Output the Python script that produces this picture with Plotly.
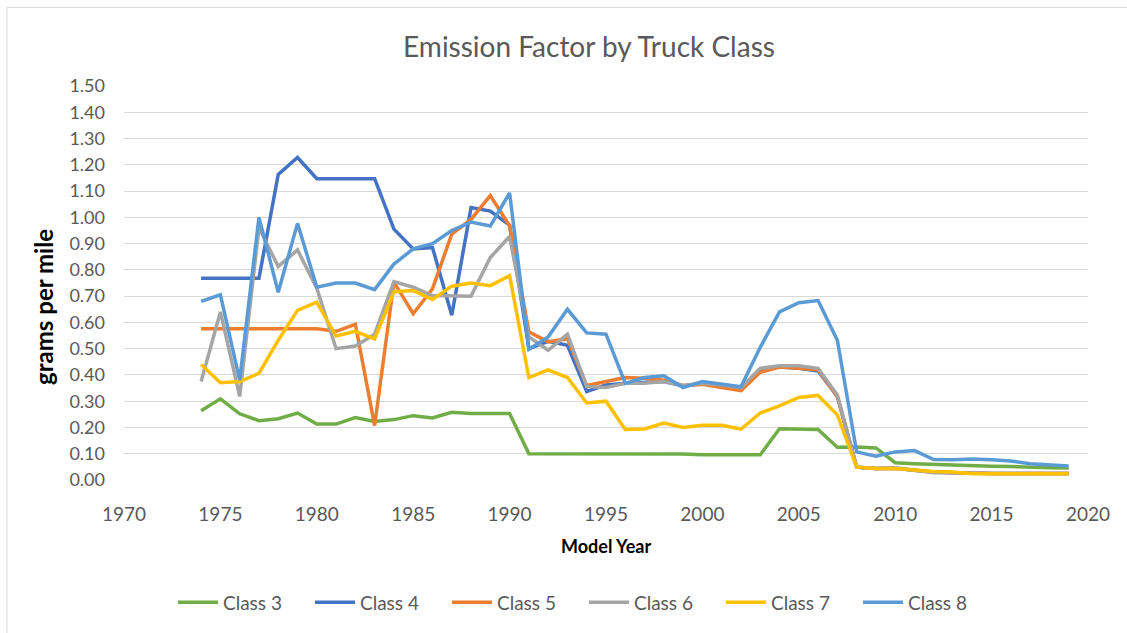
import plotly.graph_objects as go

years = list(range(1974, 2020))

class3 = [0.264, 0.309, 0.252, 0.226, 0.233, 0.255, 0.213, 0.213, 0.238, 0.223,
          0.230, 0.245, 0.236, 0.258, 0.253, 0.253, 0.253, 0.100, 0.100, 0.100,
          0.100, 0.100, 0.100, 0.100, 0.100, 0.099, 0.096, 0.096, 0.096, 0.096,
          0.195, 0.194, 0.192, 0.125, 0.126, 0.122, 0.066, 0.062, 0.059, 0.055,
          0.053, 0.052, 0.051, 0.048, 0.047, 0.046]
class4 = [0.768, 0.768, 0.768, 0.768, 1.163, 1.228, 1.147, 1.147, 1.147, 1.147,
          0.955, 0.880, 0.885, 0.627, 1.037, 1.024, 0.970, 0.500, 0.528, 0.513,
          0.337, 0.362, 0.368, 0.370, 0.375, 0.358, 0.368, 0.362, 0.352, 0.418,
          0.430, 0.425, 0.415, 0.318, 0.049, 0.044, 0.045, 0.037, 0.030, 0.028,
          0.025, 0.025, 0.025, 0.025, 0.025, 0.025]
class5 = [0.576, 0.576, 0.576, 0.576, 0.576, 0.576, 0.576, 0.566, 0.593, 0.207,
          0.753, 0.633, 0.728, 0.936, 0.992, 1.083, 0.967, 0.564, 0.526, 0.538,
          0.360, 0.375, 0.390, 0.387, 0.380, 0.360, 0.364, 0.352, 0.340, 0.410,
          0.430, 0.425, 0.420, 0.318, 0.049, 0.044, 0.045, 0.037, 0.030, 0.028,
          0.025, 0.025, 0.025, 0.025, 0.025, 0.025]
class6 = [0.375, 0.640, 0.318, 0.960, 0.813, 0.876, 0.730, 0.500, 0.510, 0.555,
          0.755, 0.734, 0.702, 0.700, 0.700, 0.847, 0.927, 0.545, 0.494, 0.555,
          0.356, 0.352, 0.368, 0.368, 0.375, 0.360, 0.368, 0.362, 0.352, 0.425,
          0.435, 0.435, 0.425, 0.324, 0.049, 0.044, 0.047, 0.037, 0.028, 0.028,
          0.025, 0.025, 0.025, 0.025, 0.025, 0.025]
class7 = [0.440, 0.370, 0.375, 0.406, 0.532, 0.646, 0.677, 0.548, 0.566, 0.537,
          0.717, 0.721, 0.687, 0.738, 0.750, 0.740, 0.778, 0.390, 0.419, 0.390,
          0.293, 0.300, 0.192, 0.194, 0.217, 0.200, 0.208, 0.208, 0.194, 0.255,
          0.282, 0.314, 0.322, 0.248, 0.049, 0.044, 0.044, 0.037, 0.032, 0.030,
          0.024, 0.024, 0.024, 0.024, 0.024, 0.024]
class8 = [0.680, 0.705, 0.380, 1.000, 0.715, 0.977, 0.734, 0.750, 0.750, 0.725,
          0.822, 0.880, 0.900, 0.950, 0.982, 0.967, 1.093, 0.498, 0.545, 0.650,
          0.560, 0.555, 0.368, 0.390, 0.397, 0.352, 0.375, 0.364, 0.355, 0.505,
          0.640, 0.675, 0.683, 0.532, 0.107, 0.091, 0.107, 0.112, 0.078, 0.077,
          0.080, 0.077, 0.072, 0.062, 0.057, 0.053]

series_names = ["Class 3", "Class 4", "Class 5", "Class 6", "Class 7", "Class 8"]
series_values = [class3, class4, class5, class6, class7, class8]
series_colors = ["#70AD47", "#4472C4", "#ED7D31", "#A5A5A5", "#FFC000", "#5B9BD5"]

x_ticks = [1970, 1975, 1980, 1985, 1990, 1995, 2000, 2005, 2010, 2015, 2020]
y_ticks = [round(i * 0.1, 2) for i in range(16)]

FONT = "Lato"
GRAY = "#595959"

fig = go.Figure()
for name, vals, col in zip(series_names, series_values, series_colors):
    fig.add_trace(go.Scatter(x=years, y=vals, name=name, mode="lines",
                             line=dict(color=col, width=3.5)))

W, H = 1127, 633
L, R, T, B = 124, 39, 86, 151
pw, ph = W - L - R, H - T - B

def px_x(p):
    return (p - L) / pw

def px_y(p):
    return (H - B - p) / ph

fig.update_layout(
    width=W, height=H,
    margin=dict(l=L, r=R, t=T, b=B),
    paper_bgcolor="white", plot_bgcolor="white",
    font=dict(family=FONT, color=GRAY, size=16),
    title=dict(text="Emission Factor by Truck Class", x=px_x(589), xref="paper",
               xanchor="center", y=1 - 47 / H, yref="container", yanchor="middle",
               font=dict(family=FONT, size=28, color=GRAY)),
    xaxis=dict(range=[1970, 2020], tickvals=x_ticks, showgrid=False, zeroline=False,
               showline=False, ticks="", tickfont=dict(size=19, color=GRAY),
               ticklabelstandoff=21),
    yaxis=dict(range=[0, 1.5], tickvals=y_ticks, tickformat=".2f", showgrid=True,
               gridcolor="#D9D9D9", gridwidth=1, zeroline=False, showline=False,
               ticks="", tickfont=dict(size=18, color=GRAY), ticklabelstandoff=18),
    legend=dict(orientation="h", x=px_x(584), xanchor="center", y=px_y(605),
                yanchor="middle", font=dict(size=19, color=GRAY),
                bgcolor="rgba(0,0,0,0)", entrywidth=82, itemwidth=40),
    showlegend=True,
    annotations=[
        dict(text="<b>grams per mile</b>", x=px_x(44), y=px_y(308), xref="paper",
             yref="paper", textangle=-90, showarrow=False,
             font=dict(family=FONT, size=24, color="black"),
             xanchor="center", yanchor="middle"),
        dict(text="<b>Model Year</b>", x=px_x(606), y=px_y(548), xref="paper",
             yref="paper", showarrow=False,
             font=dict(family=FONT, size=18, color="black"),
             xanchor="center", yanchor="middle"),
    ],
    shapes=[dict(type="rect", xref="paper", yref="paper",
                 x0=px_x(7), x1=px_x(1140), y0=px_y(650), y1=px_y(7),
                 line=dict(color="#D9D9D9", width=1), fillcolor="rgba(0,0,0,0)",
                 layer="below")],
)

fig.write_html("out.html", config={"displayModeBar": False},
               post_script="document.body.style.margin='0';")
